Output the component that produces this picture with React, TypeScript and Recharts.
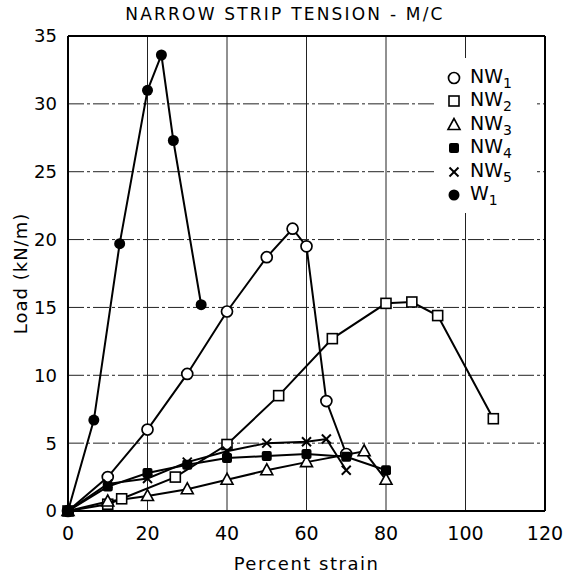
import React from "react";
import {
  LineChart,
  Line,
  XAxis,
  YAxis,
  CartesianGrid,
  ReferenceLine,
  Legend,
} from "recharts";

// strain (%) vs load (kN/m)
const nw1 = [[0, 0], [10, 2.5], [20, 6], [30, 10.1], [40, 14.7], [50, 18.7], [56.5, 20.8], [60, 19.5], [65, 8.1], [70, 4.2]];
const nw2 = [[0, 0], [10, 0.5], [13.5, 0.9], [27, 2.5], [40, 4.9], [53, 8.5], [66.5, 12.7], [80, 15.3], [86.5, 15.4], [93, 14.4], [107, 6.8]];
const nw3 = [[0, 0], [10, 0.7], [20, 1.1], [30, 1.6], [40, 2.3], [50, 3.0], [60, 3.6], [74.5, 4.4], [80, 2.3]];
const nw4 = [[0, 0], [10, 1.8], [20, 2.8], [30, 3.4], [40, 3.9], [50, 4.05], [60, 4.2], [70, 4.0], [80, 3.0]];
const nw5 = [[0, 0], [10, 2.0], [20, 2.4], [30, 3.6], [40, 4.4], [50, 5.0], [60, 5.1], [65, 5.3], [70, 3.0]];
const w1 = [[0, 0], [6.5, 6.7], [13, 19.7], [20, 31], [23.5, 33.6], [26.5, 27.3], [33.5, 15.2]];

const xTicks = [0, 20, 40, 60, 80, 100, 120];
const yTicks = [0, 5, 10, 15, 20, 25, 30, 35];

const toPts = (a: number[][]) => a.map(([x, y]) => ({ x, y }));

const FONT = "'DejaVu Sans', sans-serif";

type Shape = "circle" | "square" | "triangle" | "fsquare" | "cross" | "fcircle";

const marker = (shape: Shape, cx: number, cy: number, key?: any) => {
  switch (shape) {
    case "circle":
      return <circle key={key} cx={cx} cy={cy} r={5.5} fill="#fff" stroke="#000" strokeWidth={1.7} />;
    case "square":
      return <rect key={key} x={cx - 5} y={cy - 5} width={10} height={10} fill="#fff" stroke="#000" strokeWidth={1.6} />;
    case "triangle":
      return (
        <polygon
          key={key}
          points={`${cx},${cy - 6.5} ${cx - 6},${cy + 4.5} ${cx + 6},${cy + 4.5}`}
          fill="#fff"
          stroke="#000"
          strokeWidth={1.6}
        />
      );
    case "fsquare":
      return <rect key={key} x={cx - 5} y={cy - 5} width={10} height={10} rx={2} fill="#000" />;
    case "cross":
      return (
        <g key={key} stroke="#000" strokeWidth={2}>
          <line x1={cx - 4.5} y1={cy - 4.5} x2={cx + 4.5} y2={cy + 4.5} />
          <line x1={cx - 4.5} y1={cy + 4.5} x2={cx + 4.5} y2={cy - 4.5} />
        </g>
      );
    default:
      return <circle key={key} cx={cx} cy={cy} r={5.5} fill="#000" />;
  }
};

const makeDot = (shape: Shape) => (p: any) => {
  const { cx, cy, index } = p;
  if (cx == null || cy == null) return <g key={`${shape}-${index}`} />;
  return marker(shape, cx, cy, `${shape}-${index}`);
};

const series: { name: string; sub: string; shape: Shape; data: number[][] }[] = [
  { name: "NW", sub: "1", shape: "circle", data: nw1 },
  { name: "NW", sub: "2", shape: "square", data: nw2 },
  { name: "NW", sub: "3", shape: "triangle", data: nw3 },
  { name: "NW", sub: "4", shape: "fsquare", data: nw4 },
  { name: "NW", sub: "5", shape: "cross", data: nw5 },
  { name: "W", sub: "1", shape: "fcircle", data: w1 },
];

const renderLegend = () => (
  <div style={{ background: "#fff", padding: "8px 0 6px 12px", fontFamily: FONT }}>
    {series.map((s) => (
      <div key={s.name + s.sub} style={{ display: "flex", alignItems: "center", height: 23.5 }}>
        <svg width={16} height={16} style={{ marginRight: 8 }}>
          {marker(s.shape, 8, 8)}
        </svg>
        <span style={{ fontSize: 19, color: "#000" }}>
          {s.name}
          <sub style={{ fontSize: 14 }}>{s.sub}</sub>
        </span>
      </div>
    ))}
  </div>
);

export default function App() {
  return (
    <div style={{ position: "absolute", left: 0, top: 0, width: 570, height: 578, background: "#fff" }}>
      <div
        style={{
          position: "absolute",
          top: 4,
          left: 0,
          width: 570,
          textAlign: "center",
          fontFamily: FONT,
          fontSize: 17,
          letterSpacing: 2.2,
        }}
      >
        NARROW STRIP TENSION - M/C
      </div>
      <LineChart width={570} height={578} margin={{ top: 36, right: 25, bottom: 27, left: 8 }}>
        <CartesianGrid vertical={false} stroke="#222" strokeDasharray="16 3 3 3" />
        <CartesianGrid horizontal={false} stroke="#222" />
        <XAxis
          type="number"
          dataKey="x"
          domain={[0, 120]}
          ticks={xTicks}
          interval={0}
          allowDuplicatedCategory={false}
          height={40}
          tickLine={false}
          tickMargin={10}
          axisLine={{ stroke: "#000", strokeWidth: 2 }}
          tick={{ fill: "#000", fontSize: 19, fontFamily: FONT }}
          label={{ value: "Percent strain", position: "bottom", offset: 6, fill: "#000", fontSize: 18, fontFamily: FONT, letterSpacing: 1.5 }}
        />
        <YAxis
          type="number"
          domain={[0, 35]}
          ticks={yTicks}
          interval={0}
          width={60}
          tickLine={false}
          tickMargin={5}
          axisLine={{ stroke: "#000", strokeWidth: 2 }}
          tick={{ fill: "#000", fontSize: 18, fontFamily: FONT }}
          label={{ value: "Load (kN/m)", angle: -90, position: "center", dx: -17, fill: "#000", fontSize: 18, fontFamily: FONT, letterSpacing: 1 }}
        />
        <ReferenceLine x={120} stroke="#000" strokeWidth={2} />
        <ReferenceLine y={35} stroke="#000" strokeWidth={2} />
        {series.map((s) => (
          <Line
            key={s.name + s.sub}
            name={s.name + s.sub}
            type="linear"
            data={toPts(s.data)}
            dataKey="y"
            stroke="#000"
            strokeWidth={2}
            dot={makeDot(s.shape)}
            activeDot={false}
            isAnimationActive={false}
          />
        ))}
        <Legend
          layout="vertical"
          align="center"
          verticalAlign="middle"
          content={renderLegend}
          wrapperStyle={{ position: "absolute", left: 434, top: 58, width: 100 }}
        />
      </LineChart>
    </div>
  );
}
